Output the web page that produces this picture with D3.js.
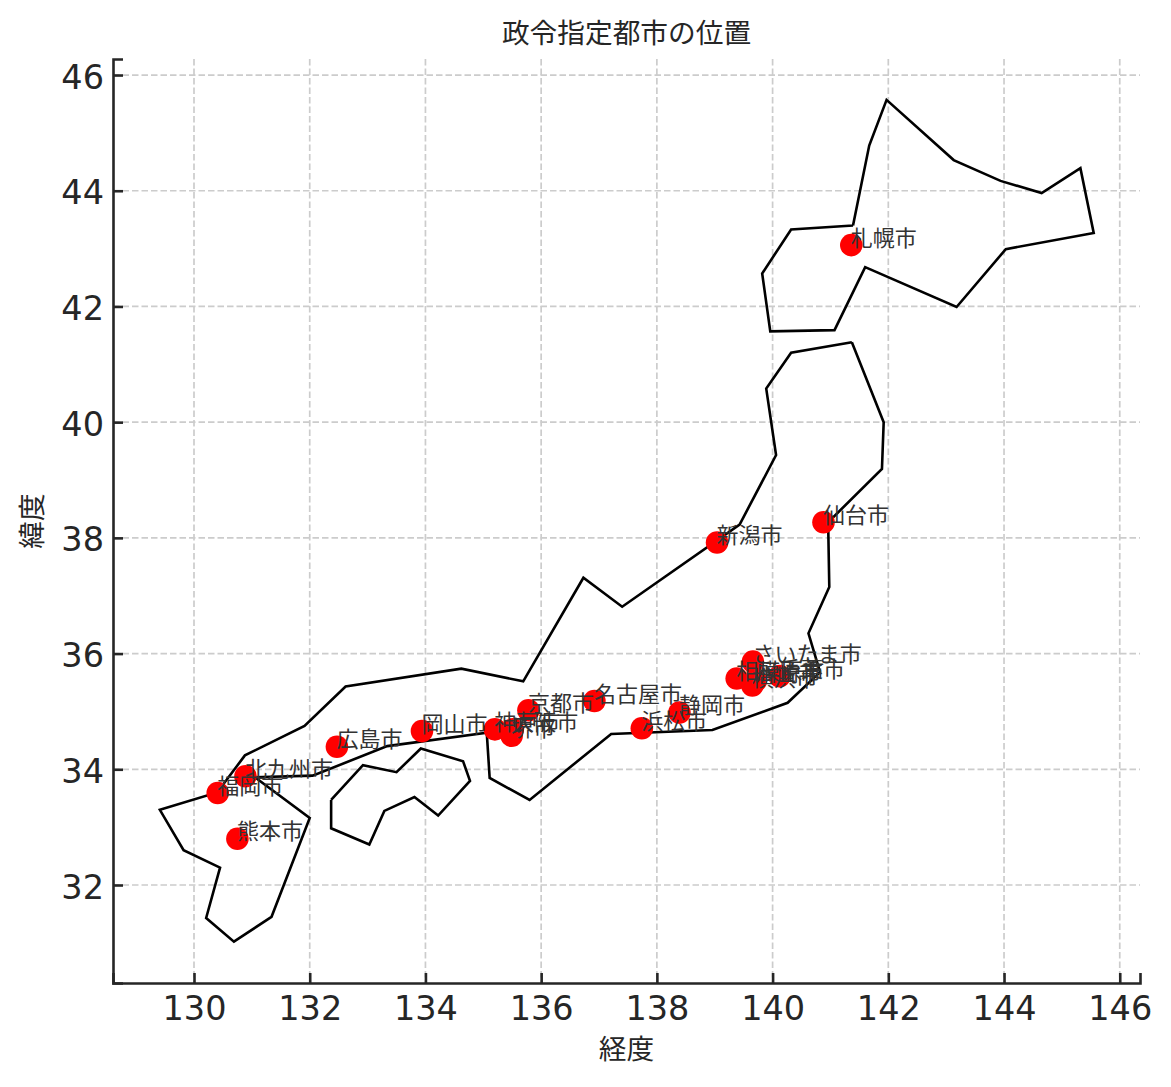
<!DOCTYPE html>
<html>
<head>
<meta charset="utf-8">
<style>
  html, body { margin: 0; padding: 0; background: #fff; }
  svg { display: block; }
</style>
<script src="https://cdn.jsdelivr.net/npm/d3@7"></script>
</head>
<body>
<div id="chart"></div>
<script>
'use strict';

// city data
var cityNames = ['札幌市', '仙台市', 'さいたま市', '千葉市', '川崎市', '横浜市', '相模原市', '新潟市', '静岡市', '浜松市',
  '名古屋市', '京都市', '大阪市', '堺市', '神戸市', '岡山市', '広島市', '北九州市', '福岡市', '熊本市'];
var cityLon = [141.36, 140.88, 139.66, 140.12, 139.71, 139.65, 139.38, 139.04, 138.39, 137.74,
  136.92, 135.78, 135.51, 135.49, 135.20, 133.94, 132.47, 130.89, 130.41, 130.75];
var cityLat = [43.06, 38.27, 35.86, 35.61, 35.53, 35.45, 35.57, 37.92, 34.98, 34.71,
  35.18, 35.02, 34.69, 34.58, 34.69, 34.66, 34.39, 33.88, 33.59, 32.80];

// outlines, [lon, lat]
var hokkaido = [[141.39, 43.40], [141.67, 44.78], [141.97, 45.57], [143.13, 44.53], [143.94, 44.17], [144.65, 43.96],
  [145.32, 44.39], [145.55, 43.27], [144.03, 42.99], [143.18, 41.99], [141.60, 42.68], [141.07, 41.59], [139.96, 41.57],
  [139.82, 42.57], [140.32, 43.33], [141.39, 43.40]];
var mainland = [[141.37, 41.38], [141.92, 40.00], [141.89, 39.19], [140.96, 38.27], [140.98, 37.15], [140.62, 36.35],
  [140.82, 35.68], [140.26, 35.15], [138.96, 34.68], [137.21, 34.61], [135.80, 33.47], [135.11, 33.85], [135.06, 34.63],
  [133.34, 34.40], [132.05, 33.89], [130.95, 33.86], [131.07, 33.85], [132.00, 33.16], [131.34, 31.45], [130.69, 31.02],
  [130.21, 31.43], [130.45, 32.30], [129.82, 32.60], [129.41, 33.30], [130.40, 33.60], [130.88, 34.24], [131.91, 34.75],
  [132.62, 35.43], [134.62, 35.74], [135.69, 35.52], [136.73, 37.31], [137.40, 36.81], [139.43, 38.23], [140.06, 39.43],
  [139.89, 40.58], [140.32, 41.20], [141.37, 41.38]];
var shikoku = [[132.37, 33.47], [132.92, 34.07], [133.50, 33.95], [133.92, 34.36], [134.65, 34.14], [134.77, 33.80],
  [134.22, 33.20], [133.81, 33.52], [133.29, 33.28], [133.03, 32.70], [132.37, 32.98], [132.37, 33.47]];
var outlines = [hokkaido, mainland, shikoku];

var xTicks = [130, 132, 134, 136, 138, 140, 142, 144, 146];
var yTicks = [32, 34, 36, 38, 40, 42, 44, 46];
var titleText = '政令指定都市の位置';
var xLabel = '経度';
var yLabel = '緯度';

var width = 1171, height = 1087;
var left = 113, right = 1140, top_ = 59, bottom = 983;
var cjk = '"Noto Sans CJK JP", sans-serif';
var textColor = '#262626';

var x = d3.scaleLinear().domain([128.6, 146.35]).range([left, right]);
var y = d3.scaleLinear().domain([30.306, 46.277]).range([bottom, top_]);

var vis = d3.select('#chart').append('svg')
  .attr('width', width)
  .attr('height', height);

// grid
vis.append('g').selectAll('line').data(xTicks).enter().append('line')
  .attr('x1', function(d){ return x(d); })
  .attr('x2', function(d){ return x(d); })
  .attr('y1', top_).attr('y2', bottom);
vis.append('g').selectAll('line').data(yTicks).enter().append('line')
  .attr('x1', left).attr('x2', right)
  .attr('y1', function(d){ return y(d); })
  .attr('y2', function(d){ return y(d); });
vis.selectAll('g line')
  .style('stroke', '#cccccc')
  .style('stroke-width', 1.7)
  .style('stroke-dasharray', '6.5,3');

// outlines
var line = d3.line()
  .x(function(d){ return x(d[0]); })
  .y(function(d){ return y(d[1]); });
vis.append('g').selectAll('path').data(outlines).enter().append('path')
  .attr('d', line)
  .style('fill', 'none')
  .style('stroke', '#000')
  .style('stroke-width', 2.6)
  .style('stroke-linejoin', 'miter');

// cities
vis.append('g').selectAll('circle').data(cityNames).enter().append('circle')
  .attr('cx', function(d, i){ return x(cityLon[i]); })
  .attr('cy', function(d, i){ return y(cityLat[i]); })
  .attr('r', 11.3)
  .style('fill', '#ff0000');

vis.append('g').selectAll('text').data(cityNames).enter().append('text')
  .attr('x', function(d, i){ return x(cityLon[i]) - 0.5; })
  .attr('y', function(d, i){ return y(cityLat[i]) + 0.5; })
  .style('font-family', cjk)
  .style('font-size', '22px')
  .style('fill', '#333333')
  .text(function(d){ return d; });

// axes
var xAxis = vis.append('g')
  .attr('transform', 'translate(0,' + bottom + ')')
  .call(d3.axisBottom(x).tickValues(xTicks).tickSize(-10).tickPadding(13).tickFormat(d3.format('d')));
var yAxis = vis.append('g')
  .attr('transform', 'translate(' + left + ',0)')
  .call(d3.axisLeft(y).tickValues(yTicks).tickSize(-10).tickPadding(9).tickFormat(d3.format('d')));

[xAxis, yAxis].forEach(function(ax){
  ax.selectAll('.domain').style('stroke', textColor).style('stroke-width', 2.6);
  ax.selectAll('.tick line').style('stroke', textColor).style('stroke-width', 2.6);
  ax.selectAll('.tick text')
    .style('font-family', '"DejaVu Sans", sans-serif')
    .style('font-size', '33.5px')
    .style('fill', textColor);
});
yAxis.selectAll('.tick text').attr('dy', '0.39em');

// titles
vis.append('text')
  .attr('x', (left + right) / 2).attr('y', 43)
  .attr('text-anchor', 'middle')
  .style('font-family', cjk).style('font-size', '27.7px').style('fill', textColor)
  .text(titleText);
vis.append('text')
  .attr('x', (left + right) / 2).attr('y', 1059)
  .attr('text-anchor', 'middle')
  .style('font-family', cjk).style('font-size', '27.7px').style('fill', textColor)
  .text(xLabel);
vis.append('text')
  .attr('transform', 'translate(42,' + (top_ + bottom) / 2 + ') rotate(-90)')
  .attr('text-anchor', 'middle')
  .style('font-family', cjk).style('font-size', '27.7px').style('fill', textColor)
  .text(yLabel);
</script>
</body>
</html>
